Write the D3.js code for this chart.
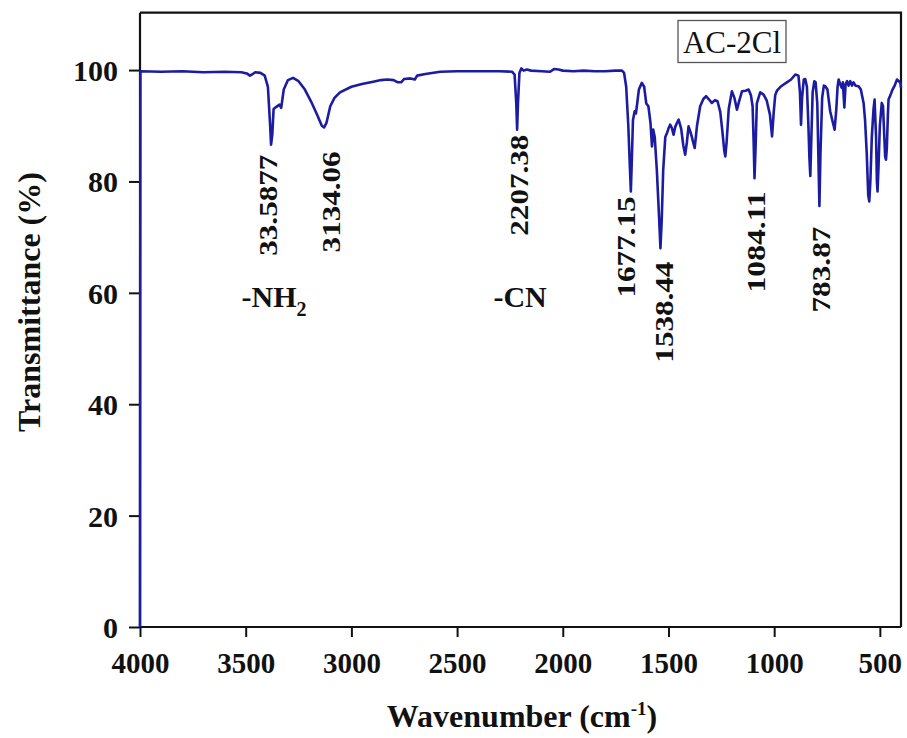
<!DOCTYPE html>
<html>
<head>
<meta charset="utf-8">
<script src="https://cdn.jsdelivr.net/npm/d3@7"></script>
<style>
  html, body { margin: 0; padding: 0; background: #fff; }
  svg { display: block; }
  text { font-family: "Liberation Serif", "Times New Roman", serif; }
</style>
</head>
<body>
<svg id="chart" width="907" height="738"></svg>
<script>
// ---------- data ----------
const wavenumber = [
  4000, 3998, 3900, 3800, 3700, 3600, 3520, 3495, 3480, 3470, 3455, 3430, 3410, 3395, 3385, 3380, 3374, 3368,
  3355, 3340, 3332, 3320, 3300, 3276, 3250, 3220, 3190, 3160, 3140, 3129, 3118, 3100, 3080, 3054, 3000, 2950,
  2897, 2860, 2830, 2800, 2780, 2765, 2750, 2720, 2700, 2689, 2650, 2580, 2500, 2400, 2300, 2240, 2228, 2220,
  2216, 2212, 2205, 2196, 2185, 2170, 2150, 2100, 2060, 2040, 2020, 2000, 1950, 1900, 1850, 1800, 1750, 1720,
  1710, 1700, 1690, 1682, 1678, 1674, 1668, 1660, 1654, 1648, 1640, 1626, 1615, 1605, 1595, 1585, 1578, 1572,
  1565, 1555, 1545, 1538, 1532, 1525, 1515, 1507, 1500, 1492, 1484, 1476, 1468, 1460, 1452, 1440, 1430, 1421,
  1413, 1405, 1397, 1390, 1383, 1376, 1365, 1350, 1335, 1322, 1310, 1295, 1280, 1268, 1255, 1245, 1236, 1231,
  1225, 1215, 1200, 1188, 1176, 1165, 1152, 1135, 1121, 1110, 1102, 1097, 1093, 1088, 1082, 1066, 1050, 1035,
  1020, 1010, 1002, 995, 987, 970, 955, 940, 920, 900, 885, 878, 873, 868, 860, 853, 845, 838, 833, 829, 824,
  818, 810, 804, 796, 790, 786, 781, 773, 765, 758, 748, 735, 725, 714, 706, 700, 695, 688, 680, 675, 668,
  662, 655, 648, 640, 632, 625, 615, 601, 590, 577, 570, 562, 555, 550, 545, 538, 530, 525, 518, 514, 511,
  507, 500, 491, 485, 479, 475, 471, 467, 462, 459, 450, 440, 430, 419, 410, 403, 400
];
const transmittance = [
  0, 99.8, 99.7, 99.8, 99.6, 99.7, 99.6, 99.4, 99.0, 99.2, 99.6, 99.5, 99.0, 97.0, 90.5, 86.6, 88.5, 93.0,
  93.4, 93.8, 93.2, 96.5, 98.2, 98.6, 98.0, 96.5, 94.3, 91.8, 90.0, 89.7, 90.5, 93.5, 95.0, 96.0, 97.0, 97.5,
  97.9, 98.2, 98.3, 98.2, 97.8, 97.8, 98.4, 98.5, 98.3, 99.0, 99.3, 99.7, 99.8, 99.8, 99.8, 99.7, 99.2, 94.0,
  89.3, 94.0, 99.5, 100.3, 99.9, 100.1, 99.9, 99.8, 99.7, 100.2, 100.1, 99.9, 99.8, 99.9, 99.8, 99.8, 99.9, 99.9,
  99.5, 97.0, 90.0, 82.0, 78.2, 83.0, 91.0, 92.6, 92.2, 94.0, 96.5, 97.7, 97.0, 94.0, 93.5, 90.5, 86.3, 89.3,
  88.0, 82.0, 74.0, 68.0, 73.0, 82.0, 88.0, 88.7, 89.5, 90.2, 89.6, 88.4, 89.8, 90.5, 91.1, 89.5, 86.5, 84.8,
  87.0, 89.9, 89.0, 88.1, 87.0, 86.0, 90.0, 93.5, 94.8, 95.3, 94.8, 94.1, 94.6, 94.4, 92.5, 89.0, 85.5, 84.5,
  87.0, 93.0, 96.2, 95.0, 92.9, 94.5, 96.2, 96.3, 96.5, 95.5, 93.5, 87.0, 80.6, 86.0, 94.0, 96.0, 95.6, 94.5,
  92.0, 88.1, 92.5, 95.5, 96.3, 97.0, 97.4, 97.8, 98.3, 99.2, 99.0, 96.0, 90.2, 95.0, 98.3, 98.4, 97.0, 90.0, 84.0, 81.0, 88.0,
  96.0, 98.0, 97.8, 94.0, 83.0, 75.6, 85.0, 95.0, 97.2, 97.1, 96.5, 92.6, 91.0, 89.3, 93.0, 97.0, 98.3, 97.5, 96.8, 97.8, 93.3,
  97.5, 98.0, 97.2, 98.0, 97.2, 97.8, 97.2, 97.1, 96.5, 94.1, 91.0, 85.0, 77.5, 76.4, 80.0, 88.0, 93.0, 94.7, 88.0, 80.0, 78.2,
  82.0, 90.0, 94.1, 93.5, 88.0, 84.5, 83.9, 86.0, 92.0, 94.7, 95.5, 96.5, 97.2, 98.3, 98.0, 97.7, 96.8
];

const xTicks = [4000, 3500, 3000, 2500, 2000, 1500, 1000, 500];
const yTicks = [0, 20, 40, 60, 80, 100];

// peak annotations (rotated): text, centre wavenumber, top level (%)
const peakLabels = ["33.5877", "3134.06", "2207.38", "1677.15", "1538.44", "1084.11", "783.87"];
const peakLabelWn = [3393, 3093, 2206, 1697, 1520, 1083, 774];
const peakLabelTop = [84.8, 85.4, 88.4, 77.3, 65.6, 78.2, 71.9];

// group annotations
const groupLabels = ["-NH", "-CN"];
const groupSub = ["2", ""];
const groupWn = [3366, 2202];
const groupT = [57.5, 57.5];

const seriesName = "AC-2Cl";

// ---------- layout ----------
const svg = d3.select("#chart");
const mLeft = 140, mRight = 901, mTop = 12.7, mBottom = 627;
const x = d3.scaleLinear().domain([4000, 400]).range([mLeft, mRight]);
const y = d3.scaleLinear().domain([0, 110.3]).range([mBottom, mTop]);

const lineColor = "#1c1ca2";
const fontFam = "'Liberation Serif','Times New Roman',serif";

// frame (top & right)
svg.append("path")
  .attr("d", `M${mLeft},${mTop}H${mRight}V${mBottom}`)
  .attr("fill", "none").attr("stroke", "#111").attr("stroke-width", 2.2);

// spectrum
const pts = wavenumber.map((w, i) => [w, transmittance[i]]);
const lineGen = d3.line().x(d => x(d[0])).y(d => y(d[1]));

// x axis
const gx = svg.append("g").attr("transform", `translate(0,${mBottom})`)
  .call(d3.axisBottom(x).tickValues(xTicks).tickSize(10).tickSizeOuter(0).tickFormat(d3.format("d")));
gx.select(".domain").attr("stroke", "#111").attr("stroke-width", 2.2).attr("d", `M${mLeft},0H${mRight}`);
gx.selectAll(".tick line").attr("stroke", "#111").attr("stroke-width", 2);
gx.selectAll(".tick text")
  .attr("y", 46).attr("dy", null)
  .attr("fill", "#111")
  .style("font-family", fontFam)
  .style("font-size", "29px").style("font-weight", "bold");

// y axis
const gy = svg.append("g").attr("transform", `translate(${mLeft},0)`)
  .call(d3.axisLeft(y).tickValues(yTicks).tickSize(11).tickSizeOuter(0).tickFormat(d3.format("d")));
gy.select(".domain").attr("stroke", "#111").attr("stroke-width", 2.2).attr("d", `M0,${mTop}V${mBottom}`);
gy.selectAll(".tick line").attr("stroke", "#111").attr("stroke-width", 2);
gy.selectAll(".tick text")
  .attr("x", -22).attr("dy", "0.35em")
  .attr("fill", "#111")
  .style("font-family", fontFam)
  .style("font-size", "30px").style("font-weight", "bold");

// spectrum drawn over the axes
svg.append("path")
  .datum(pts)
  .attr("fill", "none")
  .attr("stroke", lineColor)
  .attr("stroke-width", 2.6)
  .attr("stroke-linejoin", "round")
  .attr("d", lineGen);

// axis titles
const xt = svg.append("text")
  .attr("x", 522).attr("y", 727)
  .attr("text-anchor", "middle")
  .style("font-size", "32px").style("font-weight", "bold").attr("fill", "#111");
xt.append("tspan").text("Wavenumber (cm");
xt.append("tspan").text("-1").attr("dy", -12).style("font-size", "19px");
xt.append("tspan").text(")").attr("dy", 12);

svg.append("text")
  .attr("transform", `translate(40,302) rotate(-90)`)
  .attr("text-anchor", "middle")
  .style("font-size", "32px").style("font-weight", "bold").attr("fill", "#111")
  .text("Transmittance (%)");

// peak labels (rotated)
peakLabels.forEach((t, i) => {
  const len = t.length === 7 ? 101 : 86;
  const cx = x(peakLabelWn[i]);
  const ty = y(peakLabelTop[i]);
  svg.append("text")
    .attr("transform", `translate(${cx + 8.5},${ty + len / 2}) rotate(-90)`)
    .attr("text-anchor", "middle")
    .attr("textLength", len).attr("lengthAdjust", "spacingAndGlyphs")
    .style("font-size", "25px").style("font-weight", "bold").attr("fill", "#111")
    .text(t);
});

// group labels
groupLabels.forEach((t, i) => {
  const g = svg.append("text")
    .attr("x", x(groupWn[i])).attr("y", y(groupT[i]))
    .attr("text-anchor", "middle")
    .style("font-size", "30px").style("font-weight", "bold").attr("fill", "#111");
  g.append("tspan").text(t);
  if (groupSub[i]) g.append("tspan").text(groupSub[i]).attr("dy", 9).style("font-size", "20px");
});

// legend box
svg.append("rect")
  .attr("x", 678).attr("y", 20.5).attr("width", 108).attr("height", 42)
  .attr("fill", "#fff").attr("stroke", "#555").attr("stroke-width", 1.3);
svg.append("text")
  .attr("x", 732).attr("y", 53)
  .attr("text-anchor", "middle")
  .style("font-size", "31px").attr("fill", "#111")
  .text(seriesName);
</script>
</body>
</html>
